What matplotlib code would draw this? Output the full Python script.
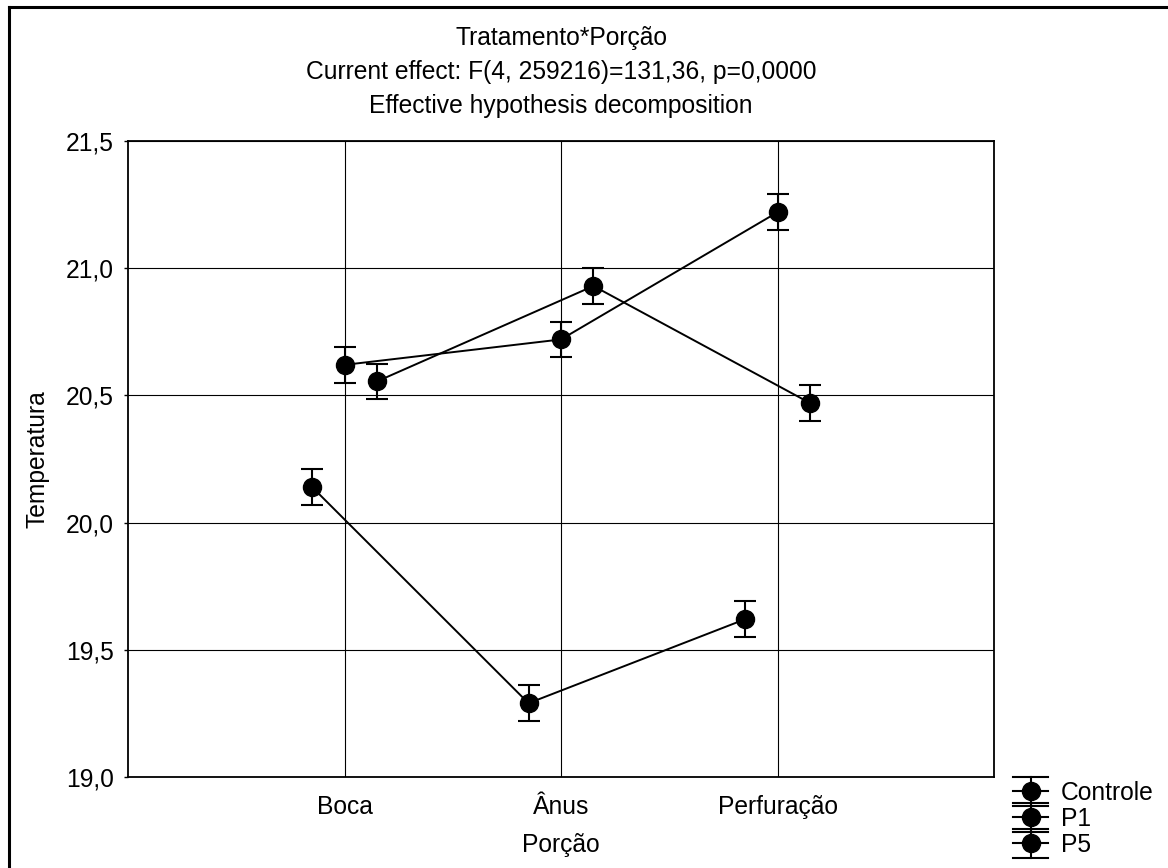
import numpy as np
import matplotlib
matplotlib.use("Agg")
import matplotlib.pyplot as plt
from matplotlib.lines import Line2D
from matplotlib.legend_handler import HandlerBase

plt.rcParams['font.family'] = ['Liberation Sans', 'DejaVu Sans']

# data
categories = ["Boca", "Ânus", "Perfuração"]
series = ["Controle", "P1", "P5"]
controle = [20.14, 19.29, 19.62]
p1 = [20.62, 20.72, 21.22]
p5 = [20.555, 20.93, 20.47]
err = [0.07, 0.07, 0.07]
yticks = [19.0, 19.5, 20.0, 20.5, 21.0, 21.5]
ytick_labels = ["19,0", "19,5", "20,0", "20,5", "21,0", "21,5"]
title_lines = ["Tratamento*Porção",
               "Current effect: F(4, 259216)=131,36, p=0,0000",
               "Effective hypothesis decomposition"]


class ErrBarHandler(HandlerBase):
    # legend symbol: wide caps above and below, marker in the middle
    def create_artists(self, legend, orig_handle, xdescent, ydescent,
                       width, height, fontsize, trans):
        cx = width / 2 - xdescent
        cy = height / 2 - ydescent
        h = 10.5
        x0, x1 = -xdescent, width - xdescent
        arts = [
            Line2D([x0, x1], [cy, cy], color='black', lw=1.5),
            Line2D([cx, cx], [cy - h, cy + h], color='black', lw=1.5),
            Line2D([x0, x1], [cy + h, cy + h], color='black', lw=1.5),
            Line2D([x0, x1], [cy - h, cy - h], color='black', lw=1.5),
            Line2D([cx], [cy], marker='o', ms=13, color='black', lw=0),
        ]
        for a in arts:
            a.set_transform(trans)
        return arts


fs = 17.7
fig = plt.figure(figsize=(11.68, 8.68), dpi=100)
ax = fig.add_axes([128/1168, 1-777/868, 866/1168, 636/868])

x = np.arange(1, len(categories)+1)
offsets = [-0.15, 0.0, 0.15]
handles = []
for vals, off, name in zip([controle, p1, p5], offsets, series):
    eb = ax.errorbar(x + off, vals, yerr=err, color='black', lw=1.4, marker='o',
                     ms=13, capsize=7.8, capthick=1.5, elinewidth=1.5, label=name,
                     zorder=3)
    handles.append(eb)

ax.set_xlim(0, 4)
ax.set_ylim(19.0, 21.5)
ax.set_xticks(x)
ax.set_xticklabels(categories, fontsize=fs)
ax.set_yticks(yticks)
ax.set_yticklabels(ytick_labels, fontsize=fs)
ax.tick_params(axis='both', length=3, width=1, direction='out', pad=7)
ax.tick_params(axis='x', length=0, pad=13)
ax.grid(True, color='black', lw=0.8)
for s in ax.spines.values():
    s.set_linewidth(1.3)

ax.set_xlabel("Porção", fontsize=fs, labelpad=10)
ax.set_ylabel("Temperatura", fontsize=fs, labelpad=12)

for i, t in enumerate(title_lines):
    fig.text(561/1168, 1-(38+34*i)/868, t, ha='center', va='center', fontsize=fs)

fig.legend(handles, series, loc='upper left', bbox_to_anchor=(1003/1168, 1-771/868),
           frameon=False, fontsize=fs, handlelength=1.45, handletextpad=0.5,
           labelspacing=0.08, borderaxespad=0,
           handler_map={type(handles[0]): ErrBarHandler()})

# outer frame (only left and top edges visible)
fig.add_artist(Line2D([8.5/1168, 8.5/1168], [0, 1-6.5/868], color='black', lw=2.2,
                      transform=fig.transFigure))
fig.add_artist(Line2D([8.5/1168, 1], [1-6.5/868, 1-6.5/868], color='black', lw=2.2,
                      transform=fig.transFigure))

fig.savefig("out.png", dpi=100)
